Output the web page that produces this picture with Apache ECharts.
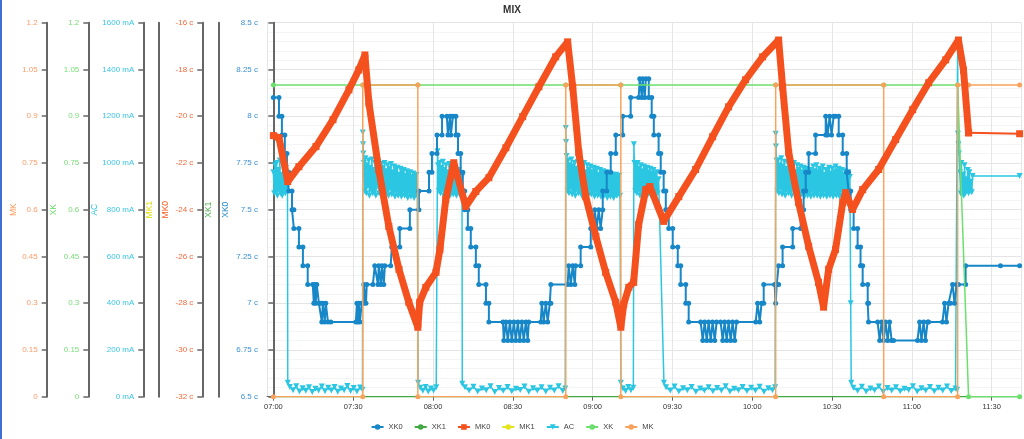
<!DOCTYPE html>
<html>
<head>
<meta charset="utf-8">
<title>MIX</title>
<script src="https://cdn.jsdelivr.net/npm/echarts@6/dist/echarts.min.js"></script>
<style>
  html, body { margin: 0; padding: 0; background: #fff; }
  #chart { width: 1024px; height: 439px; }
</style>
</head>
<body>
<div id="chart"></div>
<script>
// x values are minutes after 07:00
const START_HOUR = 7;
const X_MIN = -2.4;
const X_MAX = 281.2;

const LEGEND = ['XK0', 'XK1', 'MK0', 'MK1', 'AC', 'XK', 'MK'];

// XK0 [minute, c]
const XK0 = [
  [0,8.1],[2.1,8.1],[2.1,8.0],[3.2,8.0],[3.2,7.9],[4.3,7.9],[4.3,7.8],[5.1,7.8],[5.1,7.7],[5.8,7.7],
  [5.8,7.6],[7.0,7.6],[7.0,7.5],[7.7,7.5],[7.7,7.4],[9.6,7.4],[9.6,7.3],[11.1,7.3],[11.1,7.2],[12.9,7.2],
  [12.9,7.1],[14.8,7.1],[15.2,7.0],[15.6,7.1],[15.9,7.0],[16.3,7.1],[17.1,7.0],[17.8,7.0],[18.2,6.9],[18.6,7.0],
  [19.3,6.9],[19.7,7.0],[20.5,6.9],[21.6,6.9],[31.0,6.9],[31.4,7.0],[31.7,6.9],[32.1,7.0],[32.5,6.9],[33.2,7.0],
  [34.0,7.0],[34.0,7.1],[34.8,7.0],[35.1,7.1],[37.4,7.1],[38.1,7.2],[39.3,7.1],[39.6,7.2],[40.4,7.1],[40.8,7.2],
  [41.5,7.1],[41.9,7.2],[44.1,7.2],[44.5,7.3],[47.5,7.3],[47.5,7.4],[51.3,7.4],[51.3,7.5],[54.7,7.5],[54.7,7.6],
  [58.5,7.6],[58.5,7.7],[59.6,7.7],[59.6,7.8],[61.5,7.8],[61.5,7.9],[63.4,7.9],[63.4,8.0],[65.2,8.0],[65.6,7.9],
  [66.4,8.0],[66.7,7.9],[67.5,8.0],[68.6,8.0],
  [68.6,7.9],[69.4,7.9],[69.4,7.8],[70.4,7.8],[70.4,7.7],[71.2,7.7],[71.2,7.6],[71.9,7.6],[71.9,7.5],[73.1,7.5],
  [73.1,7.4],[74.2,7.4],[74.2,7.3],[76.1,7.3],[76.1,7.2],[77.2,7.2],[77.2,7.1],[79.9,7.1],[79.9,7.0],[81.0,7.0],
  [81.0,6.9],[86.3,6.9],[86.6,6.8],[87.4,6.9],[88.1,6.8],[88.9,6.9],[89.6,6.8],[90.4,6.9],[91.1,6.8],[91.9,6.9],
  [92.6,6.8],[93.4,6.9],[94.1,6.8],[94.9,6.9],[95.6,6.8],[96.0,6.9],[100.5,6.9],[100.9,7.0],[101.6,6.9],[102.4,7.0],
  [103.1,6.9],[103.9,7.0],[104.3,7.0],[104.3,7.1],[110.6,7.1],[111.0,7.2],[111.8,7.1],[112.5,7.2],[113.3,7.1],[113.6,7.2],
  [115.5,7.2],[115.5,7.3],[119.3,7.3],[119.3,7.4],[120.4,7.4],[120.8,7.5],[121.5,7.4],[122.3,7.5],[123.0,7.4],[123.8,7.5],
  [123.8,7.6],[125.3,7.6],[125.3,7.7],[126.8,7.7],[126.8,7.8],[128.7,7.8],[128.7,7.9],[131.3,7.9],[131.3,8.0],[134.3,8.0],
  [134.3,8.1],[137.3,8.1],[137.7,8.2],[138.5,8.1],[138.8,8.2],[139.6,8.1],[140.0,8.2],[141.1,8.2],
  [141.1,8.1],[142.2,8.1],[142.2,8.0],[143.0,8.0],[143.0,7.9],[144.8,7.9],[144.8,7.8],[145.6,7.8],[145.6,7.7],[146.7,7.7],
  [146.7,7.6],[147.5,7.6],[147.5,7.5],[148.6,7.5],[148.6,7.4],[150.1,7.4],[150.1,7.3],[152.0,7.3],[152.0,7.2],[153.1,7.2],
  [153.1,7.1],[155.0,7.1],[155.0,7.0],[156.1,7.0],[156.1,6.9],[160.6,6.9],[161.4,6.8],[162.1,6.9],[162.9,6.8],[163.6,6.9],
  [164.4,6.8],[165.1,6.9],[165.9,6.8],[166.6,6.9],[168.1,6.9],[168.9,6.8],[169.6,6.9],[170.4,6.8],[171.1,6.9],[171.9,6.8],
  [172.6,6.9],[173.4,6.8],[174.1,6.9],[181.3,6.9],[182.0,7.0],[182.8,6.9],[183.5,7.0],[184.3,7.0],[184.3,7.1],[188.4,7.1],
  [188.8,7.0],[189.2,7.1],[189.9,7.1],[189.9,7.2],[191.4,7.2],[191.4,7.3],[195.2,7.3],[195.2,7.4],[198.2,7.4],[198.2,7.5],
  [199.3,7.5],[199.3,7.6],[200.1,7.6],[200.1,7.7],[201.2,7.7],[201.2,7.8],[203.8,7.8],[203.8,7.9],[207.6,7.9],[207.6,8.0],
  [208.3,7.9],[209.1,8.0],[209.8,7.9],[210.6,8.0],[211.3,8.0],
  [212.5,8.0],[212.5,7.9],[214.0,7.9],[214.0,7.8],[215.5,7.8],[215.5,7.7],[216.2,7.7],[216.2,7.6],[217.0,7.6],[217.0,7.5],
  [218.1,7.5],[218.1,7.4],[219.6,7.4],[219.6,7.3],[220.7,7.3],[220.7,7.2],[221.5,7.2],[221.5,7.1],[223.4,7.1],[223.4,7.0],
  [223.7,7.0],[223.7,6.9],[227.1,6.9],[227.9,6.8],[228.6,6.9],[229.4,6.8],[230.1,6.9],[230.9,6.8],[231.6,6.9],[232.4,6.8],
  [233.1,6.8],[242.1,6.8],[242.9,6.9],[243.6,6.8],[244.4,6.9],[245.1,6.8],[245.9,6.9],[246.3,6.9],[251.5,6.9],[252.3,7.0],
  [253.0,6.9],[253.8,7.0],[254.5,7.0],[255.3,7.1],[256.0,7.0],[256.8,7.1],[257.5,7.1],[260.2,7.1],[260.2,7.2],[273.3,7.2],
  [280.5,7.2]
];

// XK1 [minute, value]
const XK1 = [[0,0],[280.5,0]];

// MK0 [minute, c]
const MK0 = [
  [0,-20.83],[2.1,-20.92],[5.4,-22.8],[9.6,-22.16],[16.0,-21.3],[22.4,-20.15],[28.4,-18.87],[32.1,-18.02],[34.4,-17.38],
  [35.9,-19.43],[39.6,-22.28],[43.4,-24.72],[47.2,-26.55],[50.9,-27.96],[54.3,-29.03],[55.0,-27.96],[57.3,-27.32],
  [61.1,-26.68],[62.6,-25.7],[64.8,-23.56],[67.8,-21.99],[72.3,-23.86],[76.1,-23.22],[81.0,-22.63],[87.4,-21.35],
  [93.7,-20.02],[99.8,-18.74],[106.1,-17.46],[110.6,-16.82],[112.5,-18.74],[114.8,-21.56],[117.4,-23.44],[121.2,-25.14],
  [124.9,-26.68],[128.7,-27.96],[130.6,-29.03],[131.7,-28.04],[133.6,-27.32],[135.4,-27.11],[137.3,-24.63],[140.0,-23.14],
  [141.5,-23.01],[146.7,-24.5],[152.4,-23.44],[158.7,-22.28],[165.1,-20.88],[171.1,-19.6],[177.5,-18.44],[183.9,-17.46],
  [189.9,-16.74],[191.4,-18.74],[193.7,-21.56],[197.4,-23.69],[201.2,-25.57],[204.9,-27.11],[206.8,-28.17],[208.7,-26.55],
  [211.3,-25.7],[214.0,-23.69],[215.1,-23.27],[217.7,-23.99],[221.5,-23.14],[227.5,-22.28],[233.9,-21.0],[240.3,-19.72],
  [246.3,-18.57],[252.7,-17.59],[257.5,-16.74],[259.4,-18.02],[261.3,-20.71],[280.5,-20.75]
];

// MK1 has no samples
const MK1 = [];

// AC [minute, mA]
const AC = [
  [0,960],[0.3,870],[0.6,990],[0.9,880],[1.2,1000],[1.5,860],[1.8,970],[2.1,890],[2.4,1010],[2.7,870],
  [3.0,950],[3.3,860],[3.6,990],[3.9,880],[4.2,960],[4.5,870],[4.8,980],[5.1,890],[5.3,920],[5.4,60],
  [6.2,42],[7.4,28],[8.6,45],[9.8,22],[11.0,36],[12.2,25],[13.4,40],[14.6,20],[15.8,34],[17.0,27],[18.2,44],
  [19.4,23],[20.6,38],[21.8,26],[23.0,41],[24.2,21],[25.4,35],[26.6,28],[27.8,46],[29.0,24],[30.2,37],[31.4,22],
  [32.6,39],[33.5,30],
  [33.6,1130],[33.7,1080],[33.8,1040],[34.0,1000],[34.3,880],[34.6,1020],[34.9,870],[35.2,990],[35.5,900],[35.8,1010],
  [36.1,860],[36.4,980],[36.7,890],[37.0,1015],[37.3,870],[37.6,970],[37.9,880],[38.2,1000],[38.5,860],[38.8,990],
  [39.1,900],[39.4,1005],[39.7,870],[40.0,960],[40.3,880],[40.6,995],[40.9,860],[41.2,980],[41.5,890],[41.8,1000],
  [42.1,870],[42.4,965],[42.7,880],[43.0,990],[43.3,860],[43.6,975],[43.9,890],[44.2,995],[44.5,865],[44.8,960],
  [45.1,880],[45.4,985],[45.7,855],[46.0,970],[46.3,880],[46.6,980],[46.9,860],[47.2,950],[47.5,875],[47.8,975],
  [48.1,855],[48.4,960],[48.7,880],[49.0,970],[49.3,860],[49.6,945],[49.9,870],[50.2,965],[50.5,850],[50.8,950],
  [51.1,875],[51.4,960],[51.7,855],[52.0,940],[52.3,870],[52.6,955],[52.9,850],[53.2,945],[53.5,865],[53.8,950],
  [54.1,860],[54.4,60],
  [55.2,38],[56.2,25],[57.2,42],[58.2,22],[59.2,35],[60.2,27],[61.2,40],
  [61.7,1050],[61.9,990],[62.2,880],[62.5,1000],[62.8,870],[63.1,980],[63.4,890],[63.7,1005],[64.0,860],[64.3,970],
  [64.6,880],[64.9,990],[65.2,870],[65.5,960],[65.8,885],[66.1,995],[66.4,860],[66.7,975],[67.0,880],[67.3,985],
  [67.6,865],[67.9,960],[68.2,875],[68.5,980],[68.8,860],[69.1,965],[69.4,880],[69.7,970],[70.0,865],[70.3,955],
  [70.6,875],[70.9,940],[71.0,55],
  [72.0,40],[73.6,26],[75.2,43],[76.8,22],[78.4,35],[80.0,28],[81.6,45],[83.2,20],[84.8,37],[86.4,25],[88.0,41],
  [89.6,23],[91.2,34],[92.8,29],[94.4,44],[96.0,21],[97.6,36],[99.2,26],[100.8,40],[102.4,22],[104.0,38],[105.6,27],
  [107.2,45],[108.8,24],[109.7,35],
  [109.9,1150],[110.0,1090],[110.2,1030],[110.5,880],[110.8,1010],[111.1,870],[111.4,990],[111.7,895],[112.0,1015],
  [112.3,865],[112.6,985],[112.9,880],[113.2,1000],[113.5,860],[113.8,975],[114.1,890],[114.4,1005],[114.7,870],
  [115.0,965],[115.3,880],[115.6,995],[115.9,860],[116.2,980],[116.5,890],[116.8,1000],[117.1,870],[117.4,960],
  [117.7,880],[118.0,990],[118.3,860],[118.6,970],[118.9,885],[119.2,985],[119.5,865],[119.8,960],[120.1,875],
  [120.4,980],[120.7,855],[121.0,965],[121.3,880],[121.6,975],[121.9,860],[122.2,950],[122.5,875],[122.8,970],
  [123.1,855],[123.4,960],[123.7,880],[124.0,965],[124.3,860],[124.6,945],[124.9,870],[125.2,960],[125.5,850],
  [125.8,950],[126.1,875],[126.4,955],[126.7,855],[127.0,940],[127.3,870],[127.6,950],[127.9,850],[128.2,945],
  [128.5,865],[128.8,950],[129.1,860],[129.4,940],[129.7,870],[130.0,945],[130.3,860],[130.6,60],
  [131.4,35],[132.4,24],[133.4,42],[134.4,28],[135.3,38],
  [135.5,1080],[135.7,1000],[136.0,880],[136.3,990],[136.6,870],[136.9,1000],[137.2,885],[137.5,975],[137.8,860],
  [138.1,990],[138.4,880],[138.7,965],[139.0,870],[139.3,985],[139.6,860],[139.9,970],[140.2,880],[140.5,980],
  [140.8,865],[141.1,960],[141.4,875],[141.7,975],[142.0,860],[142.3,955],[142.6,880],[142.9,970],[143.2,865],
  [143.5,950],[143.8,875],[144.1,960],[144.4,870],[144.8,930],[146.8,60],
  [147.6,40],[149.2,26],[150.8,44],[152.4,22],[154.0,36],[155.6,28],[157.2,42],[158.8,21],[160.4,35],[162.0,26],
  [163.6,40],[165.2,23],[166.8,37],[168.4,27],[170.0,45],[171.6,22],[173.2,34],[174.8,28],[176.4,41],[178.0,24],
  [179.6,38],[181.2,26],[182.8,43],[184.4,21],[186.0,36],[187.6,28],[188.6,40],
  [188.8,1125],[188.9,1070],[189.1,1010],[189.4,880],[189.7,1010],[190.0,870],[190.3,990],[190.6,895],[190.9,1020],
  [191.2,865],[191.5,985],[191.8,880],[192.1,1005],[192.4,860],[192.7,975],[193.0,890],[193.3,1000],[193.6,870],
  [193.9,965],[194.2,880],[194.5,995],[194.8,860],[195.1,980],[195.4,890],[195.7,1000],[196.0,870],[196.3,960],
  [196.6,880],[196.9,990],[197.2,860],[197.5,970],[197.8,885],[198.1,985],[198.4,865],[198.7,960],[199.0,875],
  [199.3,980],[199.6,855],[199.9,965],[200.2,880],[200.5,975],[200.8,860],[201.1,950],[201.4,875],[201.7,970],
  [202.0,855],[202.3,960],[202.6,880],[202.9,985],[203.2,860],[203.5,965],[203.8,875],[204.1,990],[204.4,860],
  [204.7,960],[205.0,880],[205.3,975],[205.6,855],[205.9,965],[206.2,875],[206.5,985],[206.8,860],[207.1,950],
  [207.4,880],[207.7,970],[208.0,855],[208.3,960],[208.6,870],[208.9,980],[209.2,860],[209.5,955],[209.8,875],
  [210.1,975],[210.4,855],[210.7,960],[211.0,880],[211.3,985],[211.6,860],[211.9,965],[212.2,870],[212.5,975],
  [212.8,855],[213.1,960],[213.4,880],[213.7,970],[214.0,860],[214.3,950],[214.6,875],[214.9,965],[215.2,855],
  [215.5,955],[215.8,870],[216.1,960],[216.4,860],[216.7,940],[217.0,400],[217.2,60],
  [218.0,38],[219.6,25],[221.2,43],[222.8,22],[224.4,35],[226.0,28],[227.6,44],[229.2,21],[230.8,37],[232.4,26],
  [234.0,40],[235.6,23],[237.2,34],[238.8,29],[240.4,45],[242.0,22],[243.6,36],[245.2,27],[246.8,41],[248.4,23],
  [250.0,38],[251.6,26],[253.2,44],[254.8,24],[256.4,35],[257.0,30],
  [257.2,1513],[257.3,1125],[257.5,1080],[257.7,1040],[258.0,960],[258.3,870],[258.6,1000],[258.9,880],[259.2,950],
  [259.5,860],[259.8,990],[260.1,870],[260.4,930],[260.7,890],[261.0,970],[261.3,870],[261.6,960],[261.9,880],
  [262.2,920],[262.5,875],[262.8,944],[280.5,944]
];

// XK and MK on/off states
const XK = [[0,1],[33.6,1],[54.3,1],[109.9,1],[130.6,1],[188.8,1],[229.4,1],[257.2,1],[261.3,0],[280.5,0]];
const MK = [
  [0,0],[33.6,0],[33.6,1],[54.3,1],[54.3,0],[109.9,0],[109.9,1],[130.6,1],[130.6,0],
  [188.8,0],[188.8,1],[229.4,1],[229.4,0],[257.2,0],[257.2,1],[261.3,1],[280.5,1]
];

const FONT = 'Liberation Sans';

function fmtTime(v) {
  const t = Math.round(v) + START_HOUR * 60;
  const h = Math.floor(t / 60), m = t % 60;
  return String(h).padStart(2, '0') + ':' + String(m).padStart(2, '0');
}

function yAxis(name, nameColor, labelColor, offset, nameGap, extra) {
  return Object.assign({
    type: 'value',
    name: name,
    position: 'left',
    offset: offset,
    nameLocation: 'middle',
    nameGap: nameGap,
    nameRotate: 90,
    nameMoveOverlap: false,
    nameTextStyle: { color: nameColor, fontSize: 8.5, fontFamily: FONT },
    axisLine: { show: true, lineStyle: { color: '#666', width: 2 } },
    axisTick: { show: true, length: 5, lineStyle: { color: '#666', width: 1.5 } },
    axisLabel: { color: labelColor, fontSize: 8, fontFamily: FONT, margin: 9 },
    splitLine: { show: false }
  }, extra);
}

function labelWithUnit(color, unit) {
  return {
    color: color, fontSize: 8, fontFamily: FONT, margin: 9,
    formatter: function (v) { return v + ' ' + unit; }
  };
}

function line(name, data, yAxisIndex, color, extra) {
  return Object.assign({
    name: name,
    type: 'line',
    data: data,
    yAxisIndex: yAxisIndex,
    symbol: 'circle',
    symbolSize: 5,
    showAllSymbol: true,
    color: color,
    itemStyle: { color: color },
    lineStyle: { width: 1.5, color: color }
  }, extra);
}

const chart = echarts.init(document.getElementById('chart'));

chart.setOption({
  animation: false,
  backgroundColor: '#fff',
  title: {
    text: 'MIX',
    left: 'center',
    top: 0,
    textStyle: { fontSize: 10, fontWeight: 'bold', color: '#333', fontFamily: FONT }
  },
  legend: {
    data: LEGEND,
    left: 'center',
    bottom: 3,
    itemWidth: 12,
    itemHeight: 7,
    itemGap: 11,
    textStyle: { fontSize: 7.5, color: '#444', fontFamily: FONT }
  },
  graphic: [{
    type: 'rect',
    shape: { x: 0, y: 0, width: 2, height: 439 },
    style: { fill: '#3f6fd0' }
  }],
  grid: { left: 267, right: 2.5, top: 22.7, bottom: 42.3, outerBoundsMode: 'none' },
  xAxis: {
    type: 'value',
    min: X_MIN,
    max: X_MAX,
    splitNumber: 10,
    axisLine: { lineStyle: { color: '#666' } },
    axisTick: { show: true, length: 4, lineStyle: { color: '#666' } },
    axisLabel: {
      showMinLabel: false,
      showMaxLabel: false,
      color: '#333',
      fontSize: 7.5,
      fontFamily: FONT,
      margin: 6,
      formatter: fmtTime
    },
    splitLine: { show: true, lineStyle: { color: '#e6e6e6' } }
  },
  yAxis: [
    yAxis('XK0', '#1e88c8', '#3c90d0', 0, 37, {
      min: 6.5, max: 8.5, interval: 0.25,
      axisLabel: labelWithUnit('#3c90d0', 'c'),
      splitLine: { show: true, lineStyle: { color: '#e4e4e4' } },
      minorTick: { show: false, splitNumber: 5 },
      minorSplitLine: { show: true, lineStyle: { color: '#f4f4f4' } }
    }),
    yAxis('XK1', '#4fb04f', '#4fb04f', 48.7, 5, {
      min: 0, max: 1, axisTick: { show: false }, axisLabel: { show: false }
    }),
    yAxis('MK0', '#f25a22', '#f26a3a', 64.7, 32, {
      min: -32, max: -16, interval: 2,
      axisLabel: labelWithUnit('#f26a3a', 'c')
    }),
    yAxis('MK1', '#dede00', '#dede00', 108.3, 5, {
      min: 0, max: 1, axisTick: { show: false }, axisLabel: { show: false }
    }),
    yAxis('AC', '#2fc3e0', '#3cc6e6', 123.7, 44, {
      min: 0, max: 1600, interval: 200,
      axisLabel: labelWithUnit('#3cc6e6', 'mA')
    }),
    yAxis('XK', '#66d966', '#77dd77', 178.7, 30.5, {
      min: 0, max: 1.2, interval: 0.15
    }),
    yAxis('MK', '#f79a5c', '#f79d6b', 220.3, 29, {
      min: 0, max: 1.2, interval: 0.15
    })
  ],
  series: [
    line('XK0', XK0, 0, '#1787c8', { symbolSize: 5, lineStyle: { width: 2, color: '#1787c8' }, z: 3 }),
    line('XK1', XK1, 1, '#42a942', { symbolSize: 3, z: 3 }),
    line('MK0', MK0.slice(0, -1), 2, '#f4511e', {
      symbol: 'rect', symbolSize: 7, lineStyle: { width: 7, color: '#f4511e' }, z: 5
    }),
    line('MK0', MK0.slice(-2), 2, '#f4511e', {
      symbol: 'rect', symbolSize: 7, lineStyle: { width: 2, color: '#f4511e' }, z: 5
    }),
    line('MK1', MK1, 3, '#e4e41c', { z: 3 }),
    line('AC', AC, 4, '#2bc6e2', {
      symbol: 'triangle', symbolRotate: 180, symbolSize: 6, lineStyle: { width: 1.5, color: '#2bc6e2' }, z: 2
    }),
    line('XK', XK, 5, '#6ddf6d', { z: 4 }),
    line('MK', MK, 6, '#f7a35c', { z: 4 })
  ]
});
</script>
</body>
</html>
